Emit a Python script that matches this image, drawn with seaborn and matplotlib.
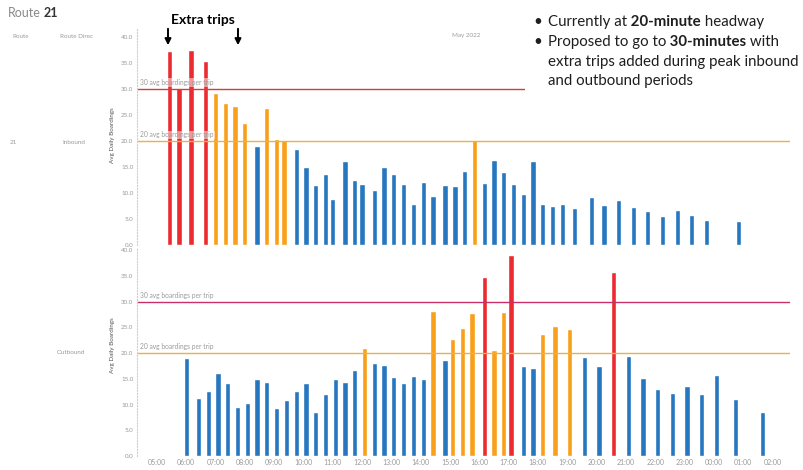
import numpy as np
import pandas as pd
import matplotlib.pyplot as plt
from matplotlib.patches import Rectangle
from matplotlib.text import Annotation
import seaborn as sns

# Route 21, average daily boardings per trip, May 2022
inbound_times = ["05:25", "05:45", "06:10", "06:40", "07:00", "07:20", "07:40", "08:00", "08:25", "08:45",
                 "09:05", "09:20", "09:45", "10:05", "10:25", "10:45", "11:00", "11:25", "11:45", "12:00",
                 "12:25", "12:45", "13:05", "13:25", "13:45", "14:05", "14:25", "14:50", "15:10", "15:30",
                 "15:50", "16:10", "16:30", "16:50", "17:10", "17:30", "17:50", "18:10", "18:30", "18:50",
                 "19:15", "19:50", "20:15", "20:45", "21:15", "21:45", "22:15", "22:45", "23:15", "23:45",
                 "00:50"]
inbound_boardings = [37.3, 30.2, 37.5, 35.4, 29.2, 27.3, 26.7, 23.5, 19.0, 26.3,
                     20.4, 20.1, 18.5, 15.0, 11.5, 13.7, 8.8, 16.2, 12.5, 11.7,
                     10.6, 15.0, 13.7, 11.7, 7.9, 12.1, 9.4, 11.5, 11.3, 14.2,
                     20.2, 11.9, 16.3, 14.0, 11.7, 9.8, 16.2, 7.9, 7.5, 7.9,
                     7.1, 9.2, 7.7, 8.7, 7.3, 6.5, 5.6, 6.7, 5.8, 4.8,
                     4.6]

outbound_times = ["06:00", "06:25", "06:45", "07:05", "07:25", "07:45", "08:05", "08:25", "08:45", "09:05",
                  "09:25", "09:45", "10:05", "10:25", "10:45", "11:05", "11:25", "11:45", "12:05", "12:25",
                  "12:45", "13:05", "13:25", "13:45", "14:05", "14:25", "14:50", "15:05", "15:25", "15:45",
                  "16:10", "16:30", "16:50", "17:05", "17:30", "17:50", "18:10", "18:35", "19:05", "19:35",
                  "20:05", "20:35", "21:05", "21:35", "22:05", "22:35", "23:05", "23:35", "00:05", "00:45",
                  "01:40"]
outbound_boardings = [19.0, 11.2, 12.7, 16.2, 14.2, 9.6, 10.2, 15.0, 14.4, 9.4,
                      10.8, 12.7, 14.2, 8.5, 12.1, 15.0, 14.4, 16.7, 21.0, 18.1,
                      17.7, 15.4, 14.2, 15.6, 15.0, 28.1, 18.7, 22.7, 24.8, 27.7,
                      34.8, 20.6, 27.9, 39.0, 17.5, 17.1, 23.7, 25.2, 24.6, 19.2,
                      17.5, 35.8, 19.4, 15.2, 13.1, 12.3, 13.5, 12.1, 15.8, 11.0,
                      8.5]

hour_labels = ["05:00", "06:00", "07:00", "08:00", "09:00", "10:00", "11:00", "12:00", "13:00", "14:00",
               "15:00", "16:00", "17:00", "18:00", "19:00", "20:00", "21:00", "22:00", "23:00", "00:00",
               "01:00", "02:00"]
y_ticks = [0, 5, 10, 15, 20, 25, 30, 35, 40]
ref_levels = [30, 20]

level_order = ["under 20", "20 to 30", "30 plus"]
level_colors = {"under 20": "#2677bf", "20 to 30": "#f9a01b", "30 plus": "#ec2b31"}

W, H = 804, 470


def px(x, y):
    return x / W, 1 - y / H


def to_hours(t):
    h, m = map(int, t.split(":"))
    v = h + m / 60 - 5
    return v + 24 if v < 0 else v


def level(v):
    if v >= 30:
        return "30 plus"
    if v >= 20:
        return "20 to 30"
    return "under 20"


def make_df(times, vals):
    df = pd.DataFrame({"time": times, "boardings": vals})
    df["hours"] = df["time"].apply(to_hours)
    df["level"] = df["boardings"].apply(level)
    return df


sns.set_style("white")
plt.rcParams["font.family"] = ["Lato", "DejaVu Sans"]

fig = plt.figure(figsize=(W / 100, H / 100), dpi=100)
# top: zero at y=245, 5.2 px per unit; bottom: zero at y=456, 5.15 px per unit
ax_in = fig.add_axes([137 / W, 1 - 245 / H, 653 / W, 216 / H])
ax_out = fig.add_axes([137 / W, 1 - 456 / H, 653 / W, 208 / H])

bar_hours = 0.18
gray = "#9a9a9a"
panels = [
    (ax_in, make_df(inbound_times, inbound_boardings), 41.5, "#d83b38"),
    (ax_out, make_df(outbound_times, outbound_boardings), 40.4, "#c8306a"),
]

for ax, df, ytop, c30 in panels:
    min_gap = np.diff(np.sort(df["hours"].values)).min()
    sns.barplot(data=df, x="hours", y="boardings", hue="level", hue_order=level_order,
                palette=level_colors, native_scale=True, dodge=False, errorbar=None,
                saturation=1, width=bar_hours / min_gap, legend=False, ax=ax)
    ax.set_xlim(-0.68, 21.6)
    ax.set_ylim(0, ytop)
    ax.set_yticks(y_ticks)
    ax.set_yticklabels([f"{v:.1f}" for v in y_ticks], fontsize=4.5, color=gray)
    ax.tick_params(length=0, pad=2.5)
    ax.set_xlabel("")
    ax.set_ylabel("")
    for s in ["top", "right", "bottom"]:
        ax.spines[s].set_visible(False)
    ax.spines["left"].set_color("#d0d0d0")
    ax.spines["left"].set_linestyle(":")
    ax.spines["left"].set_linewidth(0.8)
    for lvl, col in zip(ref_levels, [c30, "#e9b14c"]):
        ax.axhline(lvl, color=col, lw=1.0, zorder=2.5)
        ax.text(0.005, lvl + 0.5, f"{lvl} avg boardings per trip", transform=ax.get_yaxis_transform(),
                fontsize=4.8, color=gray, va="bottom", ha="left", zorder=3,
                bbox=dict(facecolor="white", alpha=0.5, edgecolor="none", pad=0.6))

ax_in.set_xticks([])
ax_out.set_xticks(range(len(hour_labels)))
ax_out.set_xticklabels(hour_labels, fontsize=5, color=gray)

# left header columns
fig.text(*px(8, 13), "Route", fontsize=9, color="#8a8a8a", va="center")
fig.text(*px(44, 13), "21", fontsize=9, color="#333333", fontweight="bold", va="center")
fig.text(*px(12, 36), "Route", fontsize=4.5, color=gray, va="center")
fig.text(*px(60, 36), "Route Direc", fontsize=4.5, color=gray, va="center")
fig.text(*px(452, 36), "May 2022", fontsize=4.5, color=gray, va="center")
fig.text(*px(10, 143), "21", fontsize=4.5, color=gray, va="center")
fig.text(*px(62, 143), "Inbound", fontsize=4.5, color=gray, va="center")
fig.text(*px(57, 352), "Outbound", fontsize=4.5, color=gray, va="center")
for yc in [135, 345]:
    fig.text(*px(113, yc), "Avg Daily Boardings", fontsize=4.5, color="#555555",
             rotation=90, va="center", ha="center")

# extra trips callout
fig.text(*px(203, 20), "Extra trips", fontsize=10, fontweight="bold", color="black",
         ha="center", va="center")
for xa in [168, 238]:
    ax_in.annotate("", xy=px(xa, 48), xycoords="figure fraction", xytext=px(xa, 26),
                   textcoords="figure fraction",
                   arrowprops=dict(arrowstyle="-|>", color="black", lw=1.4, mutation_scale=9))

# white note box that covers the chart behind the bullets
fig.add_artist(Rectangle(px(525, 97), (W - 525) / W, 97 / H, transform=fig.transFigure,
                         facecolor="white", edgecolor="none", zorder=1.5))

# bullet notes
note_kw = dict(fontsize=10.8, color="#1e1e1e", va="bottom", ha="left", zorder=3)
lines = [
    (29, [("Currently at", "normal"), (" 20-minute", "bold"), (" headway", "normal")], True),
    (49, [("Proposed to go to", "normal"), (" 30-minutes", "bold"), (" with", "normal")], True),
    (69, [("extra trips added during peak inbound", "normal")], False),
    (88, [("and outbound periods", "normal")], False),
]
for yb, parts, bullet in lines:
    if bullet:
        fig.text(*px(533, yb), "\u2022", **note_kw)
    t = fig.text(*px(548, yb), parts[0][0], fontweight=parts[0][1], **note_kw)
    for s, wgt in parts[1:]:
        t = fig.add_artist(Annotation(s, xy=(1, 0), xycoords=t, fontweight=wgt, **note_kw))

fig.savefig("out.png", dpi=100)
